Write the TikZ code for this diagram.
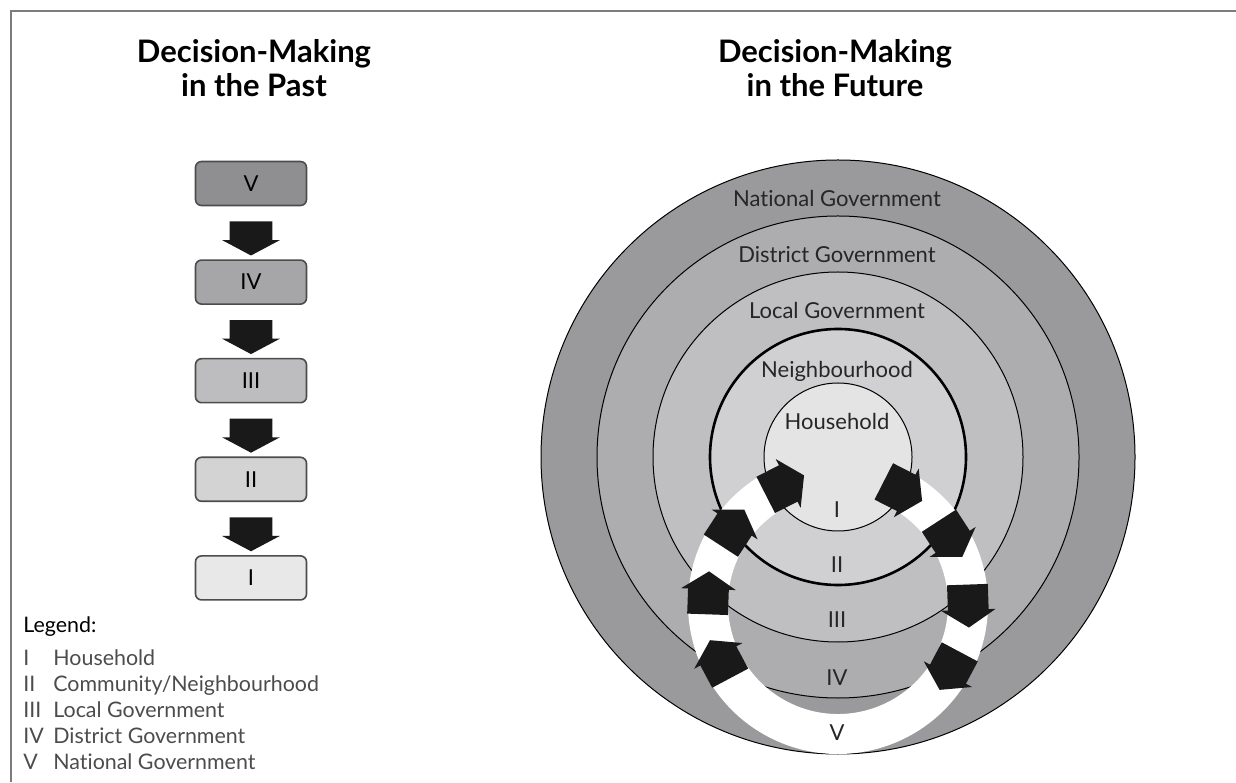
\documentclass[tikz,border=0pt]{standalone}
\usepackage{fontspec}
\setmainfont{Lato}[Ligatures=NoCommon]
\usetikzlibrary{shapes.arrows,positioning,calc}

\definecolor{natgray}{HTML}{9A9A9C}
\definecolor{disgray}{HTML}{ADADAF}
\definecolor{locgray}{HTML}{BFBFC1}
\definecolor{nbhgray}{HTML}{D0D0D2}
\definecolor{hhgray}{HTML}{E4E4E5}
\definecolor{boxVgray}{HTML}{8F8F91}
\definecolor{boxIVgray}{HTML}{A6A6A8}
\definecolor{boxIIIgray}{HTML}{BDBDBF}
\definecolor{boxIIgray}{HTML}{D3D3D4}
\definecolor{boxIgray}{HTML}{E8E8E8}
\definecolor{framegray}{HTML}{7C7C7C}
\definecolor{legendgray}{HTML}{4C4C4C}

\begin{document}
\begin{tikzpicture}[x=0.5pt, y=0.5pt,
	title/.style={font=\fontsize{15.5}{17}\selectfont\bfseries, align=center, inner sep=0pt},
	lbl/.style={font=\fontsize{11}{13}\selectfont, text=black!85, text height=7.8pt, text depth=0pt, inner sep=0pt},
	level/.style={draw=black!70, line width=0.8pt, rounded corners=3pt, minimum width=55.5pt, minimum height=22pt, inner sep=0pt, font=\fontsize{11}{13}\selectfont},
	downarrow/.style={single arrow, fill=black!90, minimum height=17pt, inner xsep=0pt, inner ysep=10.5pt, single arrow head extend=3.75pt, single arrow tip angle=124, rotate=-90},
	ringarrow/.style={single arrow, fill=black!90, minimum height=21.5pt, inner xsep=0pt, inner ysep=10pt, single arrow head extend=3.5pt, single arrow tip angle=114},
	legend/.style={font=\fontsize{10.7}{13}\selectfont, text=legendgray, anchor=base west, inner sep=0pt}]
				\useasboundingbox (0,0) rectangle (1236,782);

				% Frame
				\draw[framegray, line width=1pt] (11,0) -- (11,771) -- (1236,771);

				% Titles
				\node[title] (pasttitle) at (254,714) {Decision-Making\\in the Past};
				\node[title] (futuretitle) at (835,714) {Decision-Making\\in the Future};

				% Past: top-down chain
				\node[level, fill=boxVgray] (boxV) at (251,598.5) {V};
				\node[level, fill=boxIVgray, below=26.5pt of boxV] (boxIV) {IV};
				\node[level, fill=boxIIIgray, below=26.5pt of boxIV] (boxIII) {III};
				\node[level, fill=boxIIgray, below=26.5pt of boxIII] (boxII) {II};
				\node[level, fill=boxIgray, below=26.5pt of boxII] (boxI) {I};

				\node[downarrow] (stepVIV) at ($(boxV.south)!0.5!(boxIV.north)$) {};
				\node[downarrow] (stepIVIII) at ($(boxIV.south)!0.5!(boxIII.north)$) {};
				\node[downarrow] (stepIIIII) at ($(boxIII.south)!0.5!(boxII.north)$) {};
				\node[downarrow] (stepIII) at ($(boxII.south)!0.5!(boxI.north)$) {};

				% Legend
				\node[legend, text=black] (legtitle) at (23,150) {Legend:};
				\node[legend] (legI) at (23,117) {\makebox[15pt][l]{I}Household};
				\node[legend] (legII) at (23,91) {\makebox[15pt][l]{II}Community/Neighbourhood};
				\node[legend] (legIII) at (23,65) {\makebox[15pt][l]{III}Local Government};
				\node[legend] (legIV) at (23,39) {\makebox[15pt][l]{IV}District Government};
				\node[legend] (legV) at (23,13) {\makebox[15pt][l]{V}National Government};

				% Future: nested circles
				\coordinate (core) at (838,325);
				\draw[fill=natgray, line width=0.5pt] (core) circle (297);
				\draw[fill=disgray, line width=0.5pt] (core) circle (241);
				\draw[fill=locgray, line width=0.5pt] (core) circle (185);
				\draw[fill=nbhgray, line width=1.3pt] (core) circle (128);
				\draw[fill=hhgray, line width=0.5pt] (core) circle (74);

				% White loop with arrows
				\coordinate (loop) at (838,178);
				\draw[white, line width=20pt] ($(loop)+(62:130)$) arc[start angle=62, end angle=-242, radius=130];

				\node[ringarrow, rotate=-27] (upR1) at ($(loop)+(63:130)$) {};
				\node[ringarrow, rotate=-57] (upR2) at ($(loop)+(33:130)$) {};
				\node[ringarrow, rotate=-88] (upR3) at ($(loop)+(2:130)$) {};
				\node[ringarrow, rotate=-118] (upR4) at ($(loop)+(-28:130)$) {};
				\node[ringarrow, rotate=118] (upL4) at ($(loop)+(208:130)$) {};
				\node[ringarrow, rotate=88] (upL3) at ($(loop)+(178:130)$) {};
				\node[ringarrow, rotate=57] (upL2) at ($(loop)+(147:130)$) {};
				\node[ringarrow, rotate=27] (upL1) at ($(loop)+(117:130)$) {};

				% Circle labels
				\node[lbl] (natlbl) at (837,583) {National Government};
				\node[lbl] (dislbl) at (837,527) {District Government};
				\node[lbl] (loclbl) at (837,471) {Local Government};
				\node[lbl] (nbhlbl) at (837,412) {Neighbourhood};
				\node[lbl] (hhlbl) at (837,360) {Household};

				\node[lbl] (lvlI) at (837,272) {I};
				\node[lbl] (lvlII) at (837,217) {II};
				\node[lbl] (lvlIII) at (837,162) {III};
				\node[lbl] (lvlIV) at (837,104) {IV};
				\node[lbl] (lvlV) at (837,49) {V};
			\end{tikzpicture}
\end{document}
